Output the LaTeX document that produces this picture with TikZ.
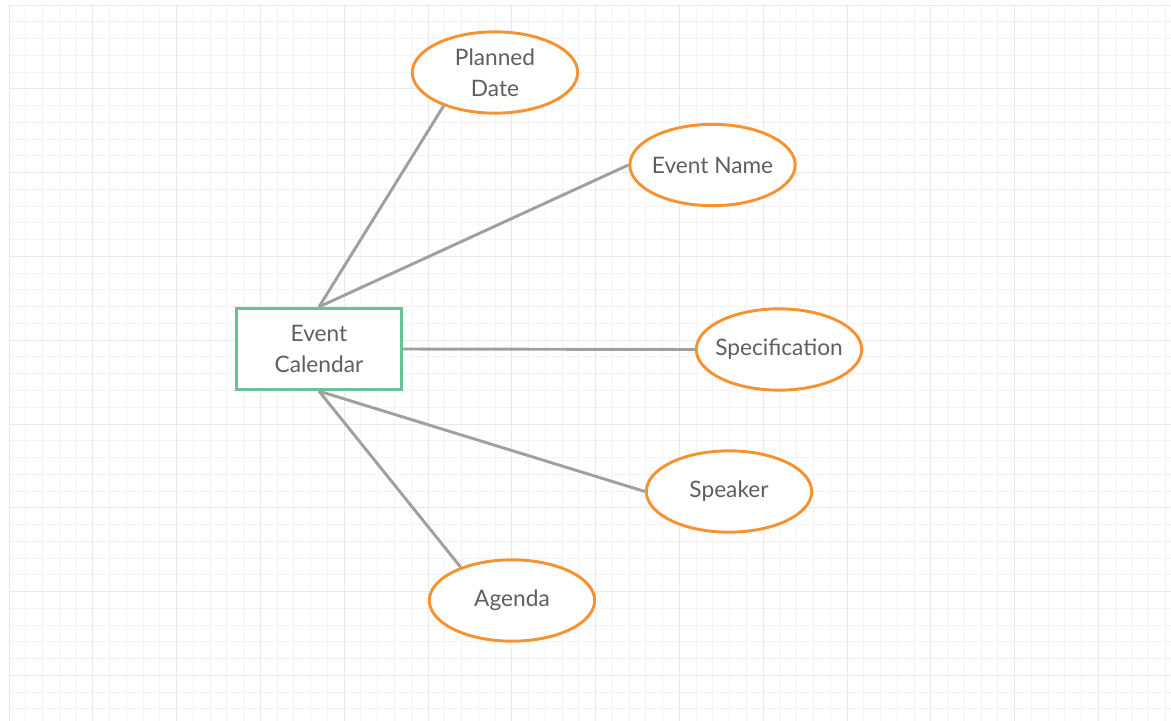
\documentclass[tikz,border=0pt]{standalone}
\usepackage{fontspec}
\setmainfont{Lato}
\usetikzlibrary{shapes.geometric,positioning}
\definecolor{attrorange}{RGB}{247,146,51}
\definecolor{entgreen}{RGB}{108,192,150}
\definecolor{linkgray}{RGB}{160,160,160}
\definecolor{textgray}{RGB}{95,95,95}
\definecolor{gridminor}{RGB}{243,243,243}
\definecolor{gridmajor}{RGB}{233,233,233}
\tikzset{
    entity/.style={draw=entgreen,line width=2.2pt,fill=white,minimum width=124pt,minimum height=61pt,
        inner sep=0pt,align=center,text=textgray,font=\fontsize{17}{23}\selectfont},
    attribute/.style={ellipse,draw=attrorange,line width=2.2pt,fill=white,minimum width=124pt,minimum height=61pt,
        inner xsep=-25pt,inner ysep=0pt,align=center,text=textgray,font=\fontsize{17}{23}\selectfont},
    link/.style={draw=linkgray,line width=2.2pt},
    gridline/.style={line width=0.75pt,draw=#1}
}

\begin{document}
\begin{tikzpicture}[x=0.75pt,y=-0.75pt]
        \useasboundingbox (0,0) rectangle (1171,721);
        \fill[white] (0,0) rectangle (1171,721);

        % grid
        \foreach \i in {0,...,69}
            \draw[gridline=gridminor] ({9+16.76*\i},5) -- ({9+16.76*\i},721);
        \foreach \j in {0,...,42}
            \draw[gridline=gridminor] (9,{5+16.76*\j}) -- (1171,{5+16.76*\j});
        \foreach \i in {0,5,...,65}
            \draw[gridline=gridmajor] ({9+16.76*\i},5) -- ({9+16.76*\i},721);
        \foreach \j in {0,5,...,40}
            \draw[gridline=gridmajor] (9,{5+16.76*\j}) -- (1171,{5+16.76*\j});

        \node[entity] (cal) at (319,349) {Event\\Calendar};
        \node[attribute] (date) at (495,72.5) {Planned\\Date};
        \node[attribute] (name) at (712.5,165) {Event Name};
        \node[attribute] (spec) at (779,349.5) {Specification};
        \node[attribute] (speaker) at (729,491.5) {Speaker};
        \node[attribute] (agenda) at (512,600.5) {Agenda};

        \draw[link] (cal.north) -- (date.213);
        \draw[link] (cal.north) -- (name.west);
        \draw[link] (cal.east) -- (spec.west);
        \draw[link] (cal.south) -- (speaker.west);
        \draw[link] (cal.south) -- (agenda.147);
    \end{tikzpicture}
\end{document}
